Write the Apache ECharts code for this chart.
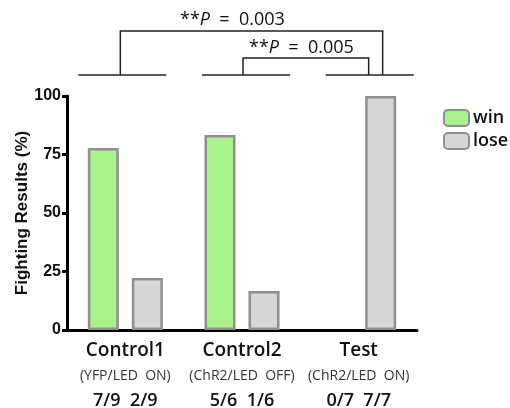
<!DOCTYPE html>
<html><head><meta charset="utf-8">
<script src="https://cdn.jsdelivr.net/npm/echarts@6/dist/echarts.min.js"></script>
<style>html,body{margin:0;padding:0;background:#fff}#c{width:510px;height:408px}</style>
</head><body><div id="c"></div>
<script>
const categories = ['Control1', 'Control2', 'Test'];
const conditions = ['(YFP/LED  ON)', '(ChR2/LED  OFF)', '(ChR2/LED  ON)'];
const winCounts = ['7/9', '5/6', '0/7'];
const loseCounts = ['2/9', '1/6', '7/7'];
const winValues = [77.8, 83.3, 0];
const loseValues = [22.2, 16.7, 100];
const yTicks = [0, 25, 50, 75, 100];
const pLabels = ['**P  =  0.003', '**P  =  0.005'];

const chart = echarts.init(document.getElementById('c'));
const F = '"Open Sans", "Noto Sans", sans-serif';
const A = '"Liberation Sans", Arial, sans-serif';
const barData = vals => vals.map(v => v === 0 ? { value: v, itemStyle: { borderWidth: 0 } } : v);
const option = {
  animation: false,
  grid: { left: 67, right: 93, top: 96, bottom: 78, containLabel: false, outerBoundsMode: 'none' },
  legend: {
    orient: 'vertical', left: 438, top: 104, itemWidth: 25, itemHeight: 16, itemGap: 5,
    textStyle: { fontSize: 18, fontWeight: 600, fontFamily: F, color: '#111', padding: [0, 0, 0, -1] },
    data: ['win', 'lose']
  },
  xAxis: {
    type: 'category', data: categories,
    axisLine: { lineStyle: { color: '#000', width: 3 } },
    axisTick: { alignWithLabel: true, length: 4, lineStyle: { color: '#000', width: 3 } },
    axisLabel: {
      margin: 8, interval: 0,
      formatter: (v, i) => `{a|${v}}\n{b|${conditions[i]}}\n{c|${winCounts[i]}  ${loseCounts[i]}}`,
      rich: {
        a: { fontSize: 19, fontWeight: 600, fontFamily: F, color: '#111', lineHeight: 25 },
        b: { fontSize: 14, fontFamily: F, color: '#333', lineHeight: 27 },
        c: { fontSize: 18, fontWeight: 600, fontFamily: F, color: '#111', lineHeight: 22 }
      }
    }
  },
  yAxis: {
    type: 'value', min: 0, max: 100, interval: 25,
    name: 'Fighting Results (%)', nameLocation: 'middle', nameGap: 36, nameMoveOverlap: false,
    nameTextStyle: { fontSize: 17, fontWeight: 'bold', fontFamily: A, color: '#111' },
    splitLine: { show: false },
    axisLine: { show: true, lineStyle: { color: '#000', width: 3 } },
    axisTick: { show: true, length: 5, lineStyle: { color: '#000', width: 3 } },
    axisLabel: { fontSize: 16, fontWeight: 'bold', fontFamily: A, color: '#111', margin: 6,
      formatter: v => yTicks.includes(v) ? String(v) : '' }
  },
  series: [
    { name: 'win', type: 'bar', data: barData(winValues), barWidth: 31, barGap: '42%',
      itemStyle: { color: '#a9f28c', borderColor: '#8f8f8f', borderWidth: 2.5 } },
    { name: 'lose', type: 'bar', data: barData(loseValues), barWidth: 31,
      itemStyle: { color: '#d6d6d6', borderColor: '#8f8f8f', borderWidth: 2.5 } }
  ]
};
chart.setOption(option);

// annotation brackets positioned relative to category centers
const cx = categories.map((c, i) => chart.convertToPixel({ xAxisIndex: 0 }, i));
const baseY = 75;
const ls = { stroke: '#222', lineWidth: 1.5 };
const segOff = [[-47, 41], [-40, 48], [-33, 55]];
const g = [];
cx.forEach((x, i) => g.push({ type: 'line', shape: { x1: x + segOff[i][0], y1: baseY, x2: x + segOff[i][1], y2: baseY }, style: ls }));
// big bracket Control1 -> Test
g.push({ type: 'polyline', shape: { points: [[cx[0] - 5, baseY], [cx[0] - 5, 31], [cx[2] + 24, 31], [cx[2] + 24, baseY]] }, style: Object.assign({ fill: null }, ls) });
// small bracket Control2 -> Test
g.push({ type: 'polyline', shape: { points: [[cx[1] + 1, baseY], [cx[1] + 1, 58], [cx[2] + 10, 58], [cx[2] + 10, baseY]] }, style: Object.assign({ fill: null }, ls) });
function pText(label, x, y) {
  const parts = label.split('P');
  return { type: 'text', left: x, top: y, style: {
    text: `{s|${parts[0]}}{p|P}{s|${parts[1]}}`,
    rich: { s: { fontSize: 18, fontFamily: F, fill: '#111' }, p: { fontSize: 18, fontFamily: F, fontStyle: 'italic', fill: '#111' } } } };
}
g.push(pText(pLabels[0], 180, 11));
g.push(pText(pLabels[1], 249, 39));
chart.setOption({ graphic: g });
</script></body></html>
